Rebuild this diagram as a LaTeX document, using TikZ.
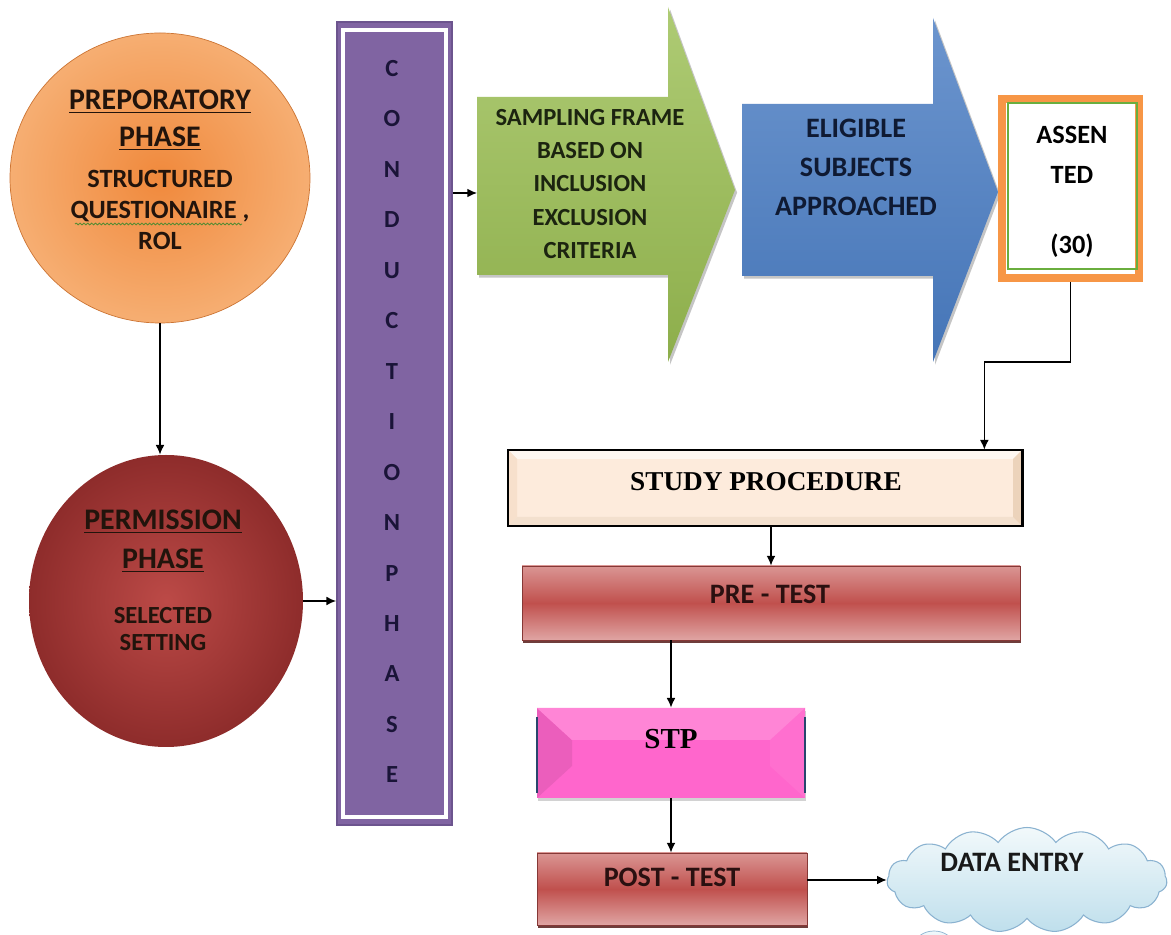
\documentclass[tikz,border=0pt]{standalone}
\usepackage{fontspec}
\setmainfont{Carlito}
\newfontfamily\serifbf{Liberation Serif}
\usetikzlibrary{arrows.meta,shapes.geometric,shapes.symbols,shadows,decorations.pathmorphing}

\definecolor{prepOrange}{HTML}{F0893C}
\definecolor{prepPeach}{HTML}{F6AE72}
\definecolor{permRed}{HTML}{BC4A47}
\definecolor{permDark}{HTML}{8E2C2B}
\definecolor{phaseInk}{HTML}{22140C}
\definecolor{condPurple}{HTML}{8064A2}
\definecolor{condEdge}{HTML}{6C548E}
\definecolor{condInk}{HTML}{1A1438}
\definecolor{sampLight}{HTML}{AECB74}
\definecolor{sampDark}{HTML}{8DAE4B}
\definecolor{sampInk}{HTML}{1C2410}
\definecolor{eligLight}{HTML}{6C95CE}
\definecolor{eligDark}{HTML}{4575B7}
\definecolor{eligInk}{HTML}{0F1A33}
\definecolor{assOrange}{HTML}{F79646}
\definecolor{assGreen}{HTML}{6AAE3E}
\definecolor{studyCream}{HTML}{FDEBDC}
\definecolor{testRed}{HTML}{C0504D}
\definecolor{testPink}{HTML}{DA9593}
\definecolor{testInk}{HTML}{2A1010}
\definecolor{stpPink}{HTML}{FF66CC}
\definecolor{cloudTop}{HTML}{F2F9FB}
\definecolor{cloudBlue}{HTML}{BFDFEC}
\definecolor{cloudEdge}{HTML}{8AB2D0}

\newcommand\pxu{0.02cm}

\tikzset{
  link/.style={line width=0.8pt, -{Latex[length=5.5pt,width=5pt]}},
  phase/.style={ellipse, inner sep=0pt, shading=radial},
  headtxt/.style={anchor=north, align=center, inner sep=0pt, text=phaseInk,
    font=\bfseries\fontsize{17}{21}\selectfont},
  subtxt/.style={anchor=north, align=center, inner sep=0pt, text=phaseInk},
  condtxt/.style={inner sep=0pt, text=condInk, font=\bfseries\fontsize{14}{16}\selectfont},
  softshadow/.style={drop shadow={shadow xshift=1.2pt, shadow yshift=-1.5pt, opacity=0.45}},
  greenarrow/.style={top color=sampLight, bottom color=sampDark, softshadow},
  bluearrow/.style={top color=eligLight, bottom color=eligDark, softshadow},
  blocktxt/.style={anchor=north, align=center, inner sep=0pt},
  testbox/.style={rectangle, inner sep=0pt, draw=testRed!70!black, line width=0.5pt,
    top color=testPink, bottom color=testPink!85!white, middle color=testRed,
    drop shadow={shadow xshift=0.8pt, shadow yshift=-1.6pt, fill=testRed!50!black, opacity=0.9}},
  testtxt/.style={anchor=base, inner sep=0pt, text=testInk, font=\bfseries\fontsize{16}{19}\selectfont},
  serifttl/.style={anchor=base, inner sep=0pt, text=black, font=\serifbf\bfseries\fontsize{16}{19}\selectfont},
  spellmark/.style={assGreen!80!black, line width=0.5pt, decorate,
    decoration={snake, amplitude=0.5pt, segment length=2.2pt}}
}

\begin{document}
\begin{tikzpicture}[x=0.02cm, y=-0.02cm]
  \useasboundingbox (0,0) rectangle (1171,935);
  \clip (0,0) rectangle (1171,935);
  \fill[white] (0,0) rectangle (1171,935);

  % two phases on the left
  \node[phase, minimum width=300*\pxu, minimum height=290*\pxu, draw=prepOrange!85!black, line width=0.4pt,
    inner color=prepOrange, outer color=prepPeach] (prep) at (160,178) {};
  \node[headtxt] (prepHead) at (160,90) {\underline{PREPORATORY}\\\underline{PHASE}};
  \node[subtxt, font=\bfseries\fontsize{15}{17.6}\selectfont] (prepSub) at (160,170)
    {STRUCTURED\\QUESTIONAIRE ,\\ROL};
  \draw[spellmark] (75,224) -- (242,224);

  \node[phase, minimum width=274*\pxu, minimum height=292*\pxu,
    inner color=permRed, outer color=permDark] (perm) at (166,601) {};
  \node[headtxt, font=\bfseries\fontsize{17}{22.1}\selectfont] (permHead) at (163,510)
    {\underline{PERMISSION}\\\underline{PHASE}};
  \node[subtxt, font=\bfseries\fontsize{14}{15.5}\selectfont] (permSub) at (163,607)
    {SELECTED\\SETTING};

  % conduction phase bar
  \node[draw=condEdge, line width=1pt, fill=condPurple, inner sep=0pt,
    minimum width=115*\pxu, minimum height=803*\pxu] (bar) at (394.5,423.5) {};
  \draw[white, line width=1.8pt] (343,30) rectangle (446,817);
  \foreach \l [count=\i] in {C,O,N,D,U,C,T,I,O,N,P,H,A,S,E}
    \node[condtxt] (cond\i) at (392,{68.5+50.46*(\i-1)}) {\l};

  % block arrows
  \path[greenarrow] (477,97) -- (668,97) -- (668,7) -- (735,190) -- (668,362)
    -- (668,275) -- (477,275) -- cycle;
  \coordinate (sampIn) at (477,193);
  \node[blocktxt, text=sampInk, font=\bfseries\fontsize{14}{18.9}\selectfont] (sampTxt) at (590,109)
    {SAMPLING FRAME\\BASED ON\\INCLUSION\\EXCLUSION\\CRITERIA};

  \path[bluearrow] (742,104) -- (933,104) -- (933,18) -- (998,192) -- (933,362)
    -- (933,276) -- (742,276) -- cycle;
  \node[blocktxt, text=eligInk, font=\bfseries\fontsize{16}{22.1}\selectfont] (eligTxt) at (856,119)
    {ELIGIBLE\\SUBJECTS\\APPROACHED};

  % assented
  \node[draw=assOrange, line width=4.5pt, fill=white, inner sep=0pt,
    minimum width=137*\pxu, minimum height=179*\pxu] (assent) at (1070.5,188.5) {};
  \draw[assGreen, line width=1pt] (1008,103) rectangle (1137,269);
  \node[blocktxt, text=black, font=\bfseries\fontsize{15}{22.7}\selectfont] (assTxt) at (1072,126)
    {ASSEN\\TED\\[17pt](30)};

  % study procedure
  \node[fill=studyCream, inner sep=0pt, minimum width=514*\pxu, minimum height=76*\pxu] (study) at (765,488) {};
  \fill[white!60!studyCream] (508,450) -- (1022,450) -- (1013,459) -- (517,459) -- cycle;
  \fill[studyCream!70!brown!60!white] (508,526) -- (1022,526) -- (1013,517) -- (517,517) -- cycle;
  \fill[studyCream!60!brown!70!white] (1022,450) -- (1022,526) -- (1013,517) -- (1013,459) -- cycle;
  \fill[studyCream!90!brown] (508,450) -- (508,526) -- (517,517) -- (517,459) -- cycle;
  \draw[line width=1.3pt] (study.north west) rectangle (study.south east);
  \node[serifttl, font=\serifbf\bfseries\fontsize{15.5}{19}\selectfont] (studyTxt) at (766,491) {STUDY PROCEDURE};

  \node[testbox, minimum width=498*\pxu, minimum height=74*\pxu] (pre) at (771,603) {};
  \node[testtxt] (preTxt) at (770,604) {PRE - TEST};

  % stp with bevel
  \node[fill=stpPink, inner sep=0pt, minimum width=268*\pxu, minimum height=90*\pxu,
    drop shadow={shadow xshift=0.8pt, shadow yshift=-1.5pt, opacity=0.35}] (stp) at (671,753) {};
  \fill[stpPink!92!black] (537,708) -- (572,740) -- (572,766) -- (537,798) -- cycle;
  \fill[stpPink!94!white] (805,708) -- (770,740) -- (770,766) -- (805,798) -- cycle;
  \fill[stpPink!80!white] (537,708) -- (805,708) -- (770,740) -- (572,740) -- cycle;
  \draw[eligDark!60!black, line width=0.8pt] (537,717) -- (537,793) (805,717) -- (805,793);
  \node[serifttl, font=\serifbf\bfseries\fontsize{16.5}{19}\selectfont] (stpTxt) at (671,749) {STP};

  \node[testbox, minimum width=270*\pxu, minimum height=72*\pxu] (post) at (672,889) {};
  \node[testtxt] (postTxt) at (672,887) {POST - TEST};

  % data entry cloud
  \path[draw=cloudEdge, top color=cloudTop, bottom color=cloudBlue] (934,945) ellipse (19 and 14);
  \node[cloud, cloud puffs=15, cloud puff arc=110, aspect=2.7, draw=cloudEdge, line width=0.6pt,
    top color=cloudTop, bottom color=cloudBlue, inner sep=0pt,
    minimum width=280*\pxu, minimum height=105*\pxu] (data) at (1027,880) {};
  \node[anchor=base, inner sep=0pt, text=black!90, font=\bfseries\fontsize{16}{19}\selectfont] (dataTxt)
    at (1012,872) {DATA ENTRY};

  % connectors
  \draw[link] (prep.south) -- (prep.south |- perm.north);
  \draw[link] (perm.east) -- (perm.east -| bar.west);
  \draw[link] (bar.east |- sampIn) -- (sampIn);
  \draw[link] (assent.south) -- ++(0,80) -| ([xshift=-38*\pxu]study.north east);
  \draw[link] (study.south -| pre.north) -- (pre.north);
  \draw[link] (pre.south -| stp.north) -- (stp.north);
  \draw[link] (stp.south) -- (stp.south |- post.north);
  \draw[link] (data.west -| post.east) -- (data.west);
\end{tikzpicture}
\end{document}
